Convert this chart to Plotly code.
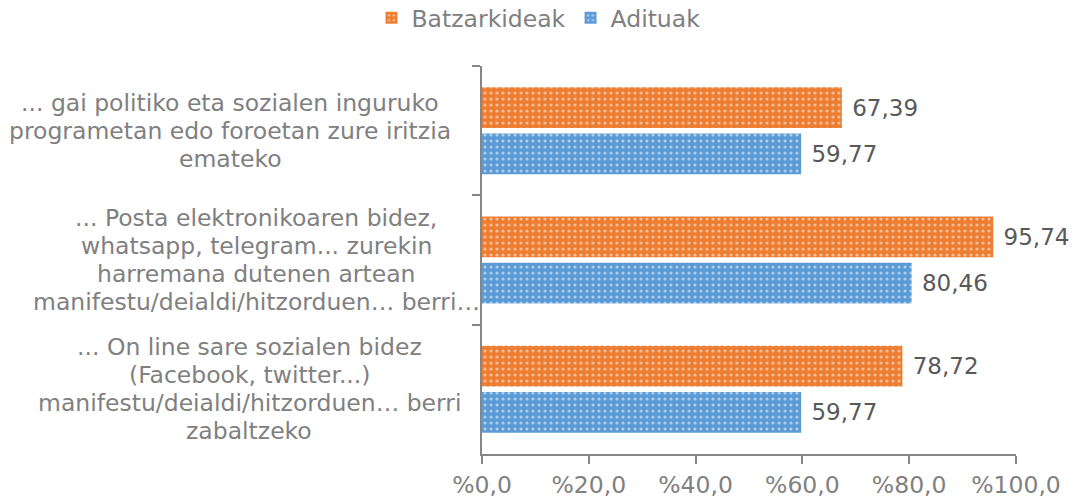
import plotly.graph_objects as go

# Survey categories (top to bottom), each split into its display lines
categories = [
    ["... gai politiko eta sozialen inguruko",
     "programetan edo foroetan zure iritzia",
     "emateko"],
    ["... Posta elektronikoaren bidez,",
     "whatsapp, telegram... zurekin",
     "harremana dutenen artean",
     "manifestu/deialdi/hitzorduen… berri…"],
    ["... On line sare sozialen bidez",
     "(Facebook, twitter...)",
     "manifestu/deialdi/hitzorduen… berri",
     "zabaltzeko"],
]
# Share answering yes, per group (percent)
batzarkideak = [67.39, 95.74, 78.72]
adituak = [59.77, 80.46, 59.77]
tick_values = [0, 20, 40, 60, 80, 100]
tick_labels = ["%" + f"{v:.1f}".replace(".", ",") for v in tick_values]

ORANGE = "#ED7D31"
BLUE = "#5B9BD5"
LABEL_GRAY = "#808080"
VALUE_GRAY = "#595959"
AXIS_GRAY = "#868686"
FONT = "DejaVu Sans, Verdana, sans-serif"

# category keys used on the y axis (labels are drawn as centred annotations)
keys = [f"c{i}" for i in range(len(categories))]


def bar_trace(name, values, color):
    return go.Bar(
        name=name,
        y=keys,
        x=values,
        orientation="h",
        marker=dict(
            color=color,
            line=dict(width=0),
            pattern=dict(shape=".", fgcolor="white", bgcolor=color,
                         size=6, solidity=0.22, fillmode="overlay"),
        ),
        texttemplate=" %{x:.2f}",
        textposition="outside",
        textfont=dict(family=FONT, size=23, color=VALUE_GRAY),
        constraintext="none",
        cliponaxis=False,
        hoverinfo="skip",
    )


fig = go.Figure([
    bar_trace("Batzarkideak", batzarkideak, ORANGE),
    bar_trace("Adituak", adituak, BLUE),
])

# horizontal centre of each wrapped category label, in pixels from the left edge
label_centres = [230, 256, 249]
line_step = 28
plot_left = 482
for key, lines, cx in zip(keys, categories, label_centres):
    n = len(lines)
    for i, line in enumerate(lines):
        fig.add_annotation(
            x=0, xref="paper", y=key, yref="y",
            text=line, showarrow=False, align="center",
            xanchor="center", yanchor="middle",
            xshift=cx - plot_left,
            yshift=((n - 1) / 2 - i) * line_step,
            font=dict(family=FONT, size=23.5, color=LABEL_GRAY),
        )

fig.update_layout(
    width=1077,
    height=502,
    margin=dict(l=482, r=61, t=66, b=48, autoexpand=False),
    paper_bgcolor="white",
    plot_bgcolor="white",
    separators=",.",
    barmode="group",
    bargap=0.285,
    bargroupgap=0.12,
    font=dict(family=FONT, color=LABEL_GRAY),
    showlegend=True,
    legend=dict(
        orientation="h",
        x=0.5, xref="container", xanchor="center",
        y=1 - 18 / 502, yref="container", yanchor="middle",
        font=dict(family=FONT, size=23.5, color=LABEL_GRAY),
        itemwidth=30,
        traceorder="normal",
    ),
    xaxis=dict(
        range=[0, 100],
        tickvals=tick_values,
        ticktext=tick_labels,
        showgrid=False,
        zeroline=False,
        showline=True,
        linecolor=AXIS_GRAY,
        linewidth=1.5,
        ticks="outside",
        ticklen=8,
        tickcolor=AXIS_GRAY,
        tickwidth=1.5,
        ticklabelstandoff=1,
        tickfont=dict(family=FONT, size=23.5, color=LABEL_GRAY),
        automargin=False,
        fixedrange=True,
    ),
    yaxis=dict(
        categoryorder="array",
        categoryarray=keys,
        autorange="reversed",
        showticklabels=False,
        showgrid=False,
        zeroline=False,
        showline=True,
        linecolor=AXIS_GRAY,
        linewidth=1.5,
        ticks="outside",
        tickson="boundaries",
        ticklen=8,
        tickcolor=AXIS_GRAY,
        tickwidth=1.5,
        automargin=False,
        fixedrange=True,
    ),
)

fig.write_html("out.html", config={"displayModeBar": False})
